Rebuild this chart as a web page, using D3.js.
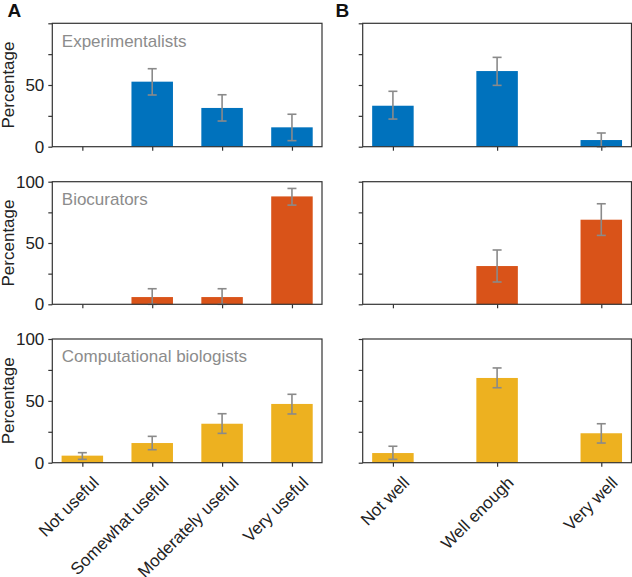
<!DOCTYPE html>
<html>
<head>
<meta charset="utf-8">
<script src="https://cdn.jsdelivr.net/npm/d3@7"></script>
<style>
  body { margin: 0; background: #fff; }
  svg { display: block; font-family: "Liberation Sans", Arial, sans-serif; }
</style>
</head>
<body>
<div id="chart"></div>
<script>
// categories
const usefulCats = ["Not useful", "Somewhat useful", "Moderately useful", "Very useful"];
const wellCats = ["Not well", "Well enough", "Very well"];
const groups = ["Experimentalists", "Biocurators", "Computational biologists"];
const groupColors = ["#0072BD", "#D95319", "#EDB120"];

// panel A: how useful (percent, with error bar low/high)
const usefulPct = [
    [0, 52.7, 31.4, 15.7],
    [0, 5.9, 5.9, 88],
    [5.7, 15.9, 31.5, 47.5]
];
const usefulLo = [
    [null, 41.9, 20.8, 4.9],
    [null, 0, 0, 80.9],
    [2.7, 10.5, 23.7, 39.4]
];
const usefulHi = [
    [null, 63.2, 42.1, 26.3],
    [null, 12.7, 12.7, 94.5],
    [8.1, 21.3, 39.6, 55.3]
];

// panel B: how well
const wellPct = [
    [33.2, 61.3, 5.4],
    [0, 31.2, 69],
    [7.8, 68.5, 23.8]
];
const wellLo = [
    [22.4, 49.7, 0],
    [null, 18.2, 56.2],
    [2.7, 60.6, 15.9]
];
const wellHi = [
    [44.9, 72.4, 11.1],
    [null, 44.3, 82],
    [13.3, 76.6, 31.5]
];

const yTicks = [0, 25, 50, 75, 100];

const width = 632, height = 577;
const svg = d3.select("#chart").append("svg")
    .attr("width", width)
    .attr("height", height);

const rows = [[23.3, 146.7], [181.7, 304.3], [339, 462.7]];
const cols = [
    { x0: 52.3, x1: 322, cats: usefulCats, pct: usefulPct, lo: usefulLo, hi: usefulHi, pad: 0.43 },
    { x0: 362.7, x1: 631.5, cats: wellCats, pct: wellPct, lo: wellLo, hi: wellHi, pad: 0.29 }
];
const barWidth = 41.5;
const axisColor = "#333";

cols.forEach((c, ci) => {
    rows.forEach((r, ri) => {
        const g = svg.append("g");
        const x = d3.scalePoint().domain(c.cats).range([c.x0, c.x1]).padding(c.pad);
        const y = d3.scaleLinear().domain([0, 100]).range([r[1], r[0]]);

        // y axis
        const yAxis = d3.axisLeft(y).tickValues(yTicks).tickSize(4).tickPadding(4)
            .tickFormat(d => {
                if (ci === 1) return "";
                if (d === 0 || d === 50) return d;
                if (d === 100 && ri > 0) return d;
                return "";
            });
        const ya = g.append("g").attr("transform", `translate(${c.x0},0)`).call(yAxis);
        ya.select(".domain").remove();
        ya.selectAll("line").attr("stroke", axisColor).attr("stroke-width", 1.2);
        ya.selectAll("text").attr("font-size", 17).attr("fill", "#222")
            .attr("font-family", "'Liberation Sans', Arial, sans-serif");

        // x axis
        const xAxis = d3.axisBottom(x).tickSize(4).tickFormat(ri === 2 ? (d => d) : "");
        const xa = g.append("g").attr("transform", `translate(0,${r[1]})`).call(xAxis);
        xa.select(".domain").remove();
        xa.selectAll("line").attr("stroke", axisColor).attr("stroke-width", 1.2);
        xa.selectAll("text")
            .attr("font-size", 17).attr("fill", "#222")
            .attr("font-family", "'Liberation Sans', Arial, sans-serif")
            .attr("text-anchor", "end")
            .attr("dy", 0)
            .attr("y", 0)
            .attr("transform", "translate(17,21) rotate(-45)");

        // bars
        g.selectAll("rect.bar")
            .data(c.cats.map((k, i) => ({ k, v: c.pct[ri][i], lo: c.lo[ri][i], hi: c.hi[ri][i] })))
            .join("rect")
            .attr("class", "bar")
            .attr("x", d => x(d.k) - barWidth / 2)
            .attr("width", barWidth)
            .attr("y", d => y(d.v))
            .attr("height", d => y(0) - y(d.v))
            .attr("fill", groupColors[ri]);

        // error bars
        const errs = c.cats.map((k, i) => ({ k, lo: c.lo[ri][i], hi: c.hi[ri][i] }))
            .filter(d => d.lo !== null);
        const eg = g.append("g").attr("stroke", "#8a8a8a").attr("stroke-width", 1.6);
        errs.forEach(d => {
            const cx = x(d.k);
            eg.append("line").attr("x1", cx).attr("x2", cx).attr("y1", y(d.lo)).attr("y2", y(d.hi));
            eg.append("line").attr("x1", cx - 4.5).attr("x2", cx + 4.5).attr("y1", y(d.hi)).attr("y2", y(d.hi));
            eg.append("line").attr("x1", cx - 4.5).attr("x2", cx + 4.5).attr("y1", y(d.lo)).attr("y2", y(d.lo));
        });

        // frame
        g.append("rect")
            .attr("x", c.x0).attr("y", r[0])
            .attr("width", c.x1 - c.x0).attr("height", r[1] - r[0])
            .attr("fill", "none").attr("stroke", axisColor).attr("stroke-width", 1.2);

        if (ci === 0) {
            g.append("text")
                .attr("x", c.x0 + 9.5).attr("y", r[0] + 23.4)
                .attr("font-size", 17).attr("fill", "#8c8c8c")
                .text(groups[ri]);
            g.append("text")
                .attr("transform", `translate(13.5,${(r[0] + r[1]) / 2}) rotate(-90)`)
                .attr("text-anchor", "middle")
                .attr("font-size", 17).attr("fill", "#222")
                .text("Percentage");
        }
    });
});

// panel letters
svg.append("text").attr("x", 7.5).attr("y", 17).attr("font-size", 19).attr("font-weight", "bold")
    .attr("fill", "#111").text("A");
svg.append("text").attr("x", 335.5).attr("y", 17).attr("font-size", 19).attr("font-weight", "bold")
    .attr("fill", "#111").text("B");
</script>
</body>
</html>
